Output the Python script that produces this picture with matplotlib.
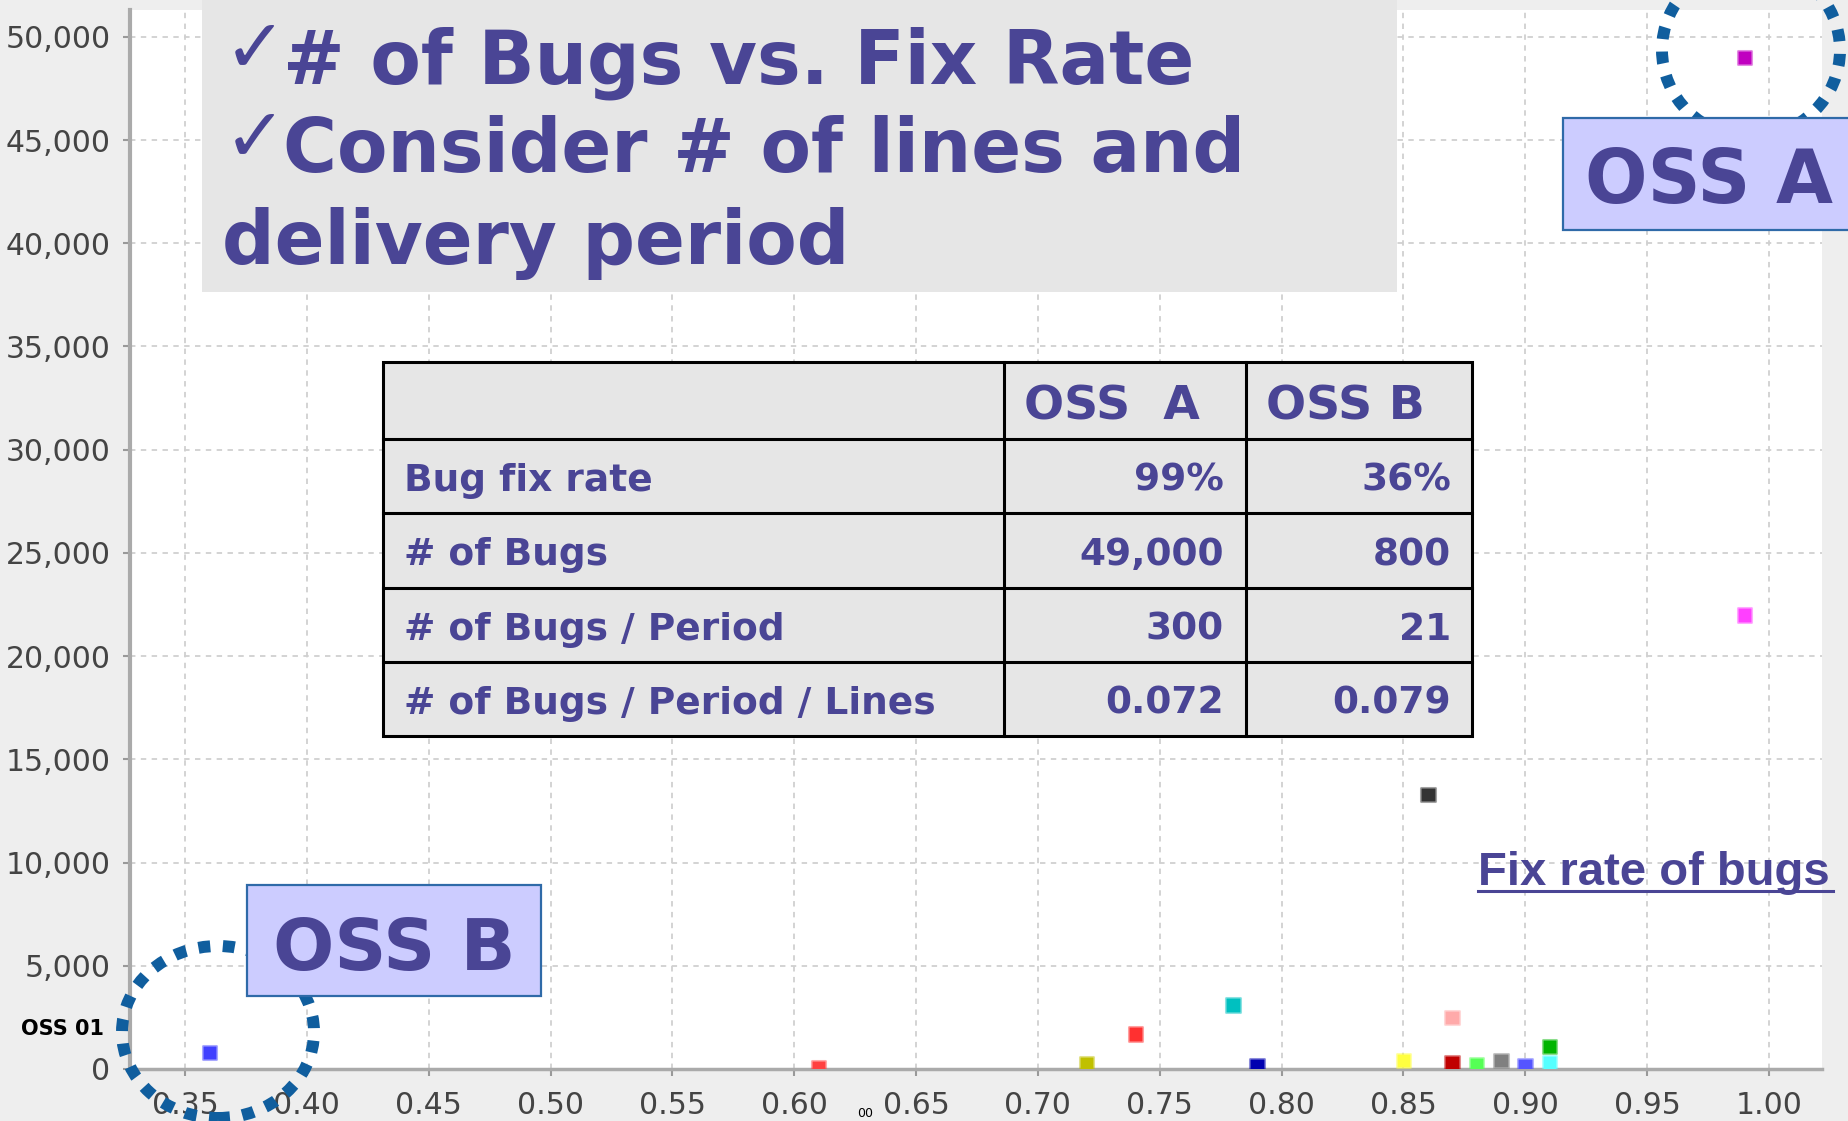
import matplotlib
matplotlib.use("Agg")
import matplotlib.pyplot as plt
from matplotlib.patches import Rectangle, Ellipse
from matplotlib.lines import Line2D
from matplotlib.ticker import FuncFormatter

# ---------------- data ----------------
fix_rate = [0.36, 0.99, 0.99, 0.86, 0.87, 0.91, 0.91, 0.85, 0.87, 0.88, 0.89, 0.90, 0.79, 0.78, 0.74, 0.72, 0.61]
num_bugs = [800, 49000, 22000, 13300, 2500, 1100, 280, 420, 300, 220, 420, 150, 150, 3100, 1700, 240, 80]
point_colors = ["#4040FF", "#C000C0", "#FF40FF", "#333333", "#FFAAAA", "#00B400", "#55FFFF",
                "#FFFF40", "#C00000", "#55FF55", "#808080", "#5555FF", "#0000B0", "#00C0C0",
                "#FF3030", "#C0C000", "#FF4040"]

x_ticks = [0.35, 0.40, 0.45, 0.50, 0.55, 0.60, 0.65, 0.70, 0.75, 0.80, 0.85, 0.90, 0.95, 1.00]
y_ticks = [0, 5000, 10000, 15000, 20000, 25000, 30000, 35000, 40000, 45000, 50000]

title_lines = ["# of Bugs vs. Fix Rate", "Consider # of lines and", "delivery period"]
table_header = ["", "OSS  A", "OSS B"]
table_rows = ["Bug fix rate", "# of Bugs", "# of Bugs / Period", "# of Bugs / Period / Lines"]
oss_a_vals = ["99%", "49,000", "300", "0.072"]
oss_b_vals = ["36%", "800", "21", "0.079"]

# ---------------- layout helpers ----------------
W, H = 1848, 1121
def fx(px):
    return px / W
def fy(py):
    return 1 - py / H

TXT = "#4A4595"
fig = plt.figure(figsize=(W / 100, H / 100), dpi=100, facecolor="#EEEEEE")
ax = fig.add_axes([fx(130), fy(1069), fx(1822) - fx(130), fy(10) - fy(1069)])
ax.set_facecolor("white")
ax.set_xlim(0.3274, 1.0218)
ax.set_ylim(0, 51300)
ax.set_xticks(x_ticks)
ax.set_yticks(y_ticks)
ax.xaxis.set_major_formatter(FuncFormatter(lambda v, p: f"{v:.2f}"))
ax.yaxis.set_major_formatter(FuncFormatter(lambda v, p: f"{int(round(v)):,}"))
ax.grid(True, color="#D0D0D0", linestyle=(0, (3, 3)), linewidth=1.3)
ax.set_axisbelow(True)
for s in ["top", "right"]:
    ax.spines[s].set_visible(False)
ax.spines["left"].set_color("#AAAAAA")
ax.spines["left"].set_linewidth(3)
ax.spines["bottom"].set_color("#AAAAAA")
ax.spines["bottom"].set_linewidth(2.5)
ax.tick_params(axis="both", colors="#999999", labelcolor="#444444", labelsize=21.5,
               length=5, width=1.5, direction="out")
ax.tick_params(axis="y", pad=9)
ax.tick_params(axis="x", pad=11)

edge_cols = []
for c in point_colors:
    r, g, b, _ = matplotlib.colors.to_rgba(c)
    edge_cols.append((r, g, b, 0.45))
ax.scatter(fix_rate, num_bugs, marker="s", s=95, c=point_colors, edgecolors=edge_cols,
           linewidths=2.2, zorder=5)

# ---------------- title box ----------------
fig.add_artist(Rectangle((fx(202), fy(292)), fx(1397) - fx(202), fy(0) - fy(292),
                         transform=fig.transFigure, facecolor="#E6E6E6", edgecolor="none", zorder=2))
baselines = [83, 172, 264]
for i, line in enumerate(title_lines):
    if i < 2:
        fig.text(fx(224), fy(baselines[i] - 12), "\u2713", fontsize=54, fontweight="bold",
                 color=TXT, family="DejaVu Sans", va="baseline", ha="left", zorder=3)
        xs = 283
    else:
        xs = 222
    fig.text(fx(xs), fy(baselines[i]), line, fontsize=53, fontweight="bold", color=TXT,
             family="DejaVu Sans", va="baseline", ha="left", zorder=3)

# ---------------- table ----------------
tl, tr = 383, 1472
cols = [383, 1004, 1246, 1472]
rows_y = [362, 439, 513, 588, 662, 736]
fig.add_artist(Rectangle((fx(tl), fy(rows_y[-1])), fx(tr) - fx(tl), fy(rows_y[0]) - fy(rows_y[-1]),
                         transform=fig.transFigure, facecolor="#E6E6E6", edgecolor="black",
                         linewidth=2.2, zorder=2))
for yv in rows_y[1:-1]:
    fig.add_artist(Line2D([fx(tl), fx(tr)], [fy(yv), fy(yv)], color="black", linewidth=2.2,
                          transform=fig.transFigure, zorder=2.5))
for xv in cols[1:-1]:
    fig.add_artist(Line2D([fx(xv), fx(xv)], [fy(rows_y[0]), fy(rows_y[-1])], color="black",
                          linewidth=2.2, transform=fig.transFigure, zorder=2.5))
fig.text(fx(1024), fy(420), table_header[1], fontsize=34, fontweight="bold", color=TXT,
         va="baseline", ha="left", zorder=3)
fig.text(fx(1266), fy(420), table_header[2], fontsize=34, fontweight="bold", color=TXT,
         va="baseline", ha="left", zorder=3)
for i, lab in enumerate(table_rows):
    top = rows_y[i + 1]
    bl = top + 52
    fig.text(fx(404), fy(bl), lab, fontsize=27, fontweight="bold", color=TXT,
             va="baseline", ha="left", zorder=3)
    fig.text(fx(1224), fy(bl), oss_a_vals[i], fontsize=27, fontweight="bold", color=TXT,
             va="baseline", ha="right", zorder=3)
    fig.text(fx(1451), fy(bl), oss_b_vals[i], fontsize=27, fontweight="bold", color=TXT,
             va="baseline", ha="right", zorder=3)

# ---------------- dotted circles ----------------
CIRC = "#105E9E"
for (cx, cy, w, h) in [(218, 1032, 192, 172), (1751, 50, 178, 174)]:
    e = Ellipse((fx(cx), fy(cy)), w / W, h / H, transform=fig.transFigure, fill=False,
                edgecolor=CIRC, linewidth=8.6, linestyle=(0, (1.0, 1.05)), zorder=2)
    e.set_capstyle("butt")
    fig.add_artist(e)

# ---------------- OSS label boxes ----------------
fig.add_artist(Rectangle((fx(247), fy(996)), fx(541) - fx(247), fy(885) - fy(996),
                         transform=fig.transFigure, facecolor="#CCCCFF", edgecolor="#2F6AA8",
                         linewidth=1.6, zorder=3))
fig.text(fx(394), fy(970), "OSS B", fontsize=52, fontweight="bold", color=TXT,
         va="baseline", ha="center", zorder=4)
fig.add_artist(Rectangle((fx(1563), fy(230)), fx(1860) - fx(1563), fy(118) - fy(230),
                         transform=fig.transFigure, facecolor="#CCCCFF", edgecolor="#2F6AA8",
                         linewidth=1.6, zorder=3))
fig.text(fx(1585), fy(203), "OSS A", fontsize=53, fontweight="bold", color=TXT,
         va="baseline", ha="left", zorder=4)

# ---------------- other texts ----------------
fig.text(fx(21), fy(1035), "OSS 01", fontsize=15, fontweight="bold", color="black",
         va="baseline", ha="left", zorder=4)
fig.text(fx(1478), fy(885), "Fix rate of bugs", fontsize=34, fontweight="bold", color=TXT,
         family="Liberation Sans", va="baseline", ha="left", zorder=4)
fig.add_artist(Line2D([fx(1478), fx(1833)], [fy(891), fy(891)], color=TXT, linewidth=2.2,
                      transform=fig.transFigure, zorder=4))
fig.text(fx(865), fy(1120), "00", fontsize=9, color="black", va="bottom", ha="center", zorder=4)

fig.savefig("out.png", dpi=100, facecolor=fig.get_facecolor())
